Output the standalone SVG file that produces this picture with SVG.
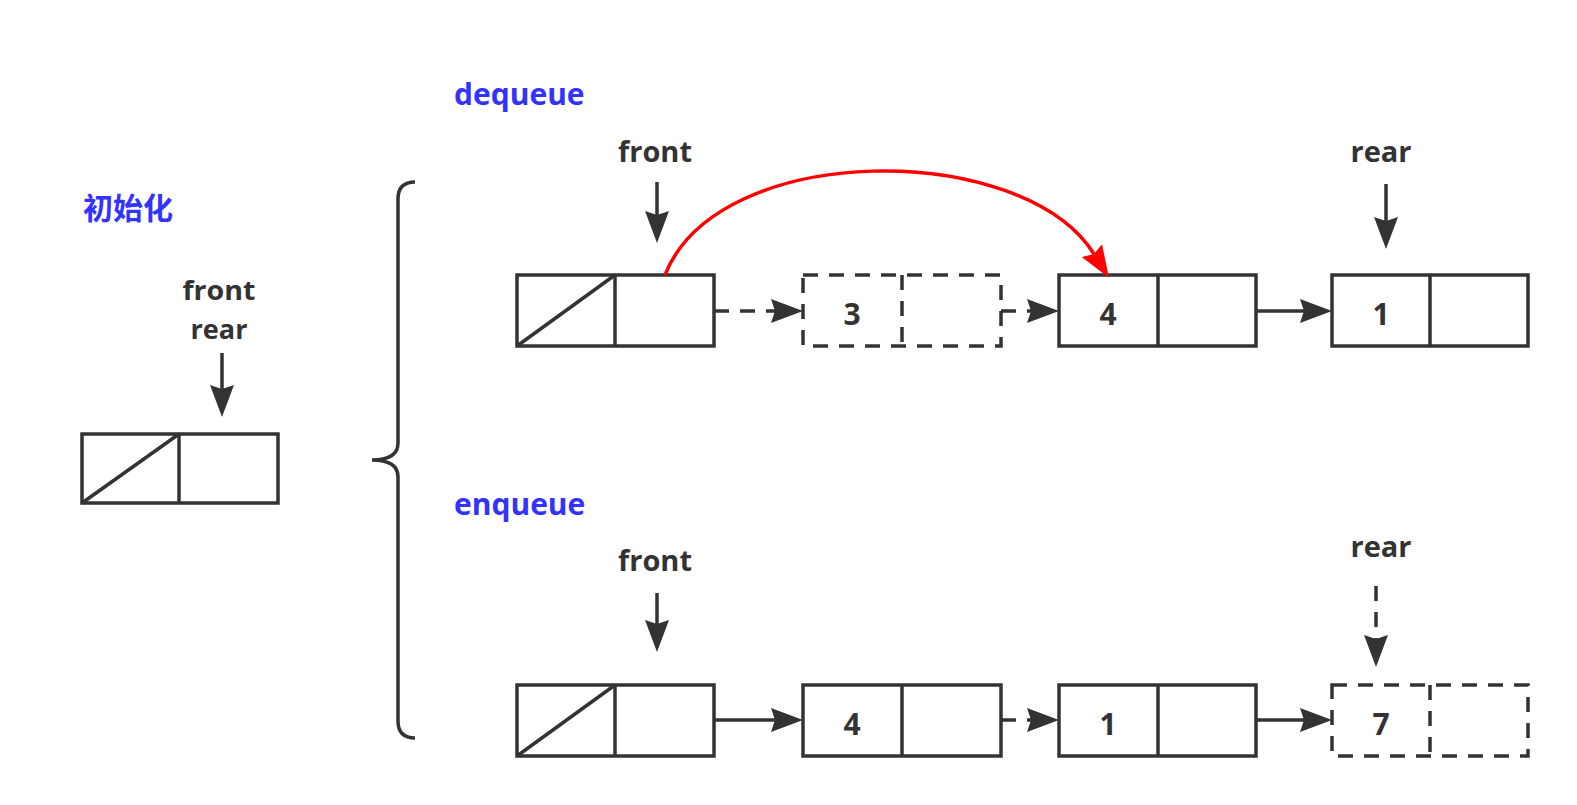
<svg xmlns="http://www.w3.org/2000/svg" width="1577" height="805" viewBox="0 0 1577 805">
<style>
.box{fill:#fff;stroke:#333;stroke-width:3.5}
.ln{fill:none;stroke:#333;stroke-width:3.5}
.dash{stroke-dasharray:15 11}
.lbl{font-family:"Open Sans","Liberation Sans",sans-serif;font-weight:700;font-size:29px;fill:#333;text-anchor:middle}
.lbl2{font-family:"Open Sans","Liberation Sans",sans-serif;font-weight:700;font-size:27px;fill:#333;text-anchor:middle}
.num{font-family:"Open Sans","Liberation Sans",sans-serif;font-weight:700;font-size:30px;fill:#333;text-anchor:middle}
.title{font-family:"Open Sans","Liberation Sans",sans-serif;font-weight:700;font-size:30px;fill:#3333ff}
.cjk{font-family:"Noto Sans CJK SC",sans-serif;font-weight:700;font-size:30px;fill:#3333ff}
</style>
<defs>
<marker id="ah" markerUnits="userSpaceOnUse" markerWidth="34" markerHeight="26" refX="4" refY="12" orient="auto">
<path d="M0,0 L32,12 L0,24 L4,12 z" fill="#333"/>
</marker>
<marker id="ahr" markerUnits="userSpaceOnUse" markerWidth="34" markerHeight="26" refX="4" refY="12" orient="auto">
<path d="M0,0 L32,12 L0,24 L4,12 z" fill="#ff0000"/>
</marker>
</defs>
<rect width="1577" height="805" fill="#fff"/>

<g id="titles">
<text class="cjk" x="83" y="219">初始化</text>
<text class="title" x="454" y="105">dequeue</text>
<text class="title" x="454" y="515">enqueue</text>
</g>

<g id="brace">
<path class="ln" d="M415,182 Q398,182 398,199 L398,443 Q398,460 372,460 Q398,460 398,477 L398,721 Q398,738 415,738"/>
</g>

<g id="init-node">
<rect class="box" x="82" y="434" width="196" height="69"/>
<line class="ln" x1="179" y1="434" x2="179" y2="503"/>
<line class="ln" x1="82" y1="503" x2="179" y2="434"/>
</g>
<g id="init-label">
<text class="lbl2" x="219" y="300" textLength="73" lengthAdjust="spacingAndGlyphs">front</text>
<text class="lbl2" x="219" y="339" textLength="57" lengthAdjust="spacingAndGlyphs">rear</text>
</g>

<g id="dq-head">
<rect class="box" x="517" y="275" width="197" height="71"/>
<line class="ln" x1="615" y1="275" x2="615" y2="346"/>
<line class="ln" x1="517" y1="346" x2="615" y2="275"/>
</g>
<g id="dq-node3">
<rect class="box dash" x="803" y="275" width="198" height="71"/>
<line class="ln dash" x1="902" y1="275" x2="902" y2="346"/>
<text class="num" x="852" y="325">3</text>
</g>
<g id="dq-node4">
<rect class="box" x="1059" y="275" width="197" height="71"/>
<line class="ln" x1="1158" y1="275" x2="1158" y2="346"/>
<text class="num" x="1108" y="325">4</text>
</g>
<g id="dq-node1">
<rect class="box" x="1332" y="275" width="196" height="71"/>
<line class="ln" x1="1430" y1="275" x2="1430" y2="346"/>
<text class="num" x="1381" y="325">1</text>
</g>
<g id="dq-labels">
<text class="lbl" x="655" y="162">front</text>
<text class="lbl" x="1381" y="162">rear</text>
</g>

<g id="eq-head">
<rect class="box" x="517" y="685" width="197" height="71"/>
<line class="ln" x1="615" y1="685" x2="615" y2="756"/>
<line class="ln" x1="517" y1="756" x2="615" y2="685"/>
</g>
<g id="eq-node4">
<rect class="box" x="803" y="685" width="198" height="71"/>
<line class="ln" x1="902" y1="685" x2="902" y2="756"/>
<text class="num" x="852" y="735">4</text>
</g>
<g id="eq-node1">
<rect class="box" x="1059" y="685" width="197" height="71"/>
<line class="ln" x1="1158" y1="685" x2="1158" y2="756"/>
<text class="num" x="1108" y="735">1</text>
</g>
<g id="eq-node7">
<rect class="box dash" x="1332" y="685" width="196" height="71"/>
<line class="ln dash" x1="1430" y1="685" x2="1430" y2="756"/>
<text class="num" x="1381" y="735">7</text>
</g>
<g id="eq-labels">
<text class="lbl" x="655" y="571">front</text>
<text class="lbl" x="1381" y="557">rear</text>
</g>

<g id="connectors">
<line class="ln" x1="222" y1="353" x2="222" y2="389" marker-end="url(#ah)"/>
<line class="ln" x1="657" y1="182" x2="657" y2="215" marker-end="url(#ah)"/>
<line class="ln" x1="1386" y1="184" x2="1386" y2="221" marker-end="url(#ah)"/>
<line class="ln dash" x1="714" y1="311" x2="775" y2="311" marker-end="url(#ah)"/>
<line class="ln dash" x1="1001" y1="311" x2="1031" y2="311" marker-end="url(#ah)"/>
<line class="ln" x1="1256" y1="311" x2="1304" y2="311" marker-end="url(#ah)"/>
<path d="M665,275 C718,140 1022,140 1094,254" fill="none" stroke="#ff0000" stroke-width="3.5" marker-end="url(#ahr)"/>
<line class="ln" x1="657" y1="593" x2="657" y2="624" marker-end="url(#ah)"/>
<line class="ln dash" x1="1376" y1="586" x2="1376" y2="639" marker-end="url(#ah)"/>
<line class="ln" x1="714" y1="720" x2="775" y2="720" marker-end="url(#ah)"/>
<line class="ln dash" x1="1001" y1="720" x2="1031" y2="720" marker-end="url(#ah)"/>
<line class="ln" x1="1256" y1="720" x2="1304" y2="720" marker-end="url(#ah)"/>
</g>
</svg>
